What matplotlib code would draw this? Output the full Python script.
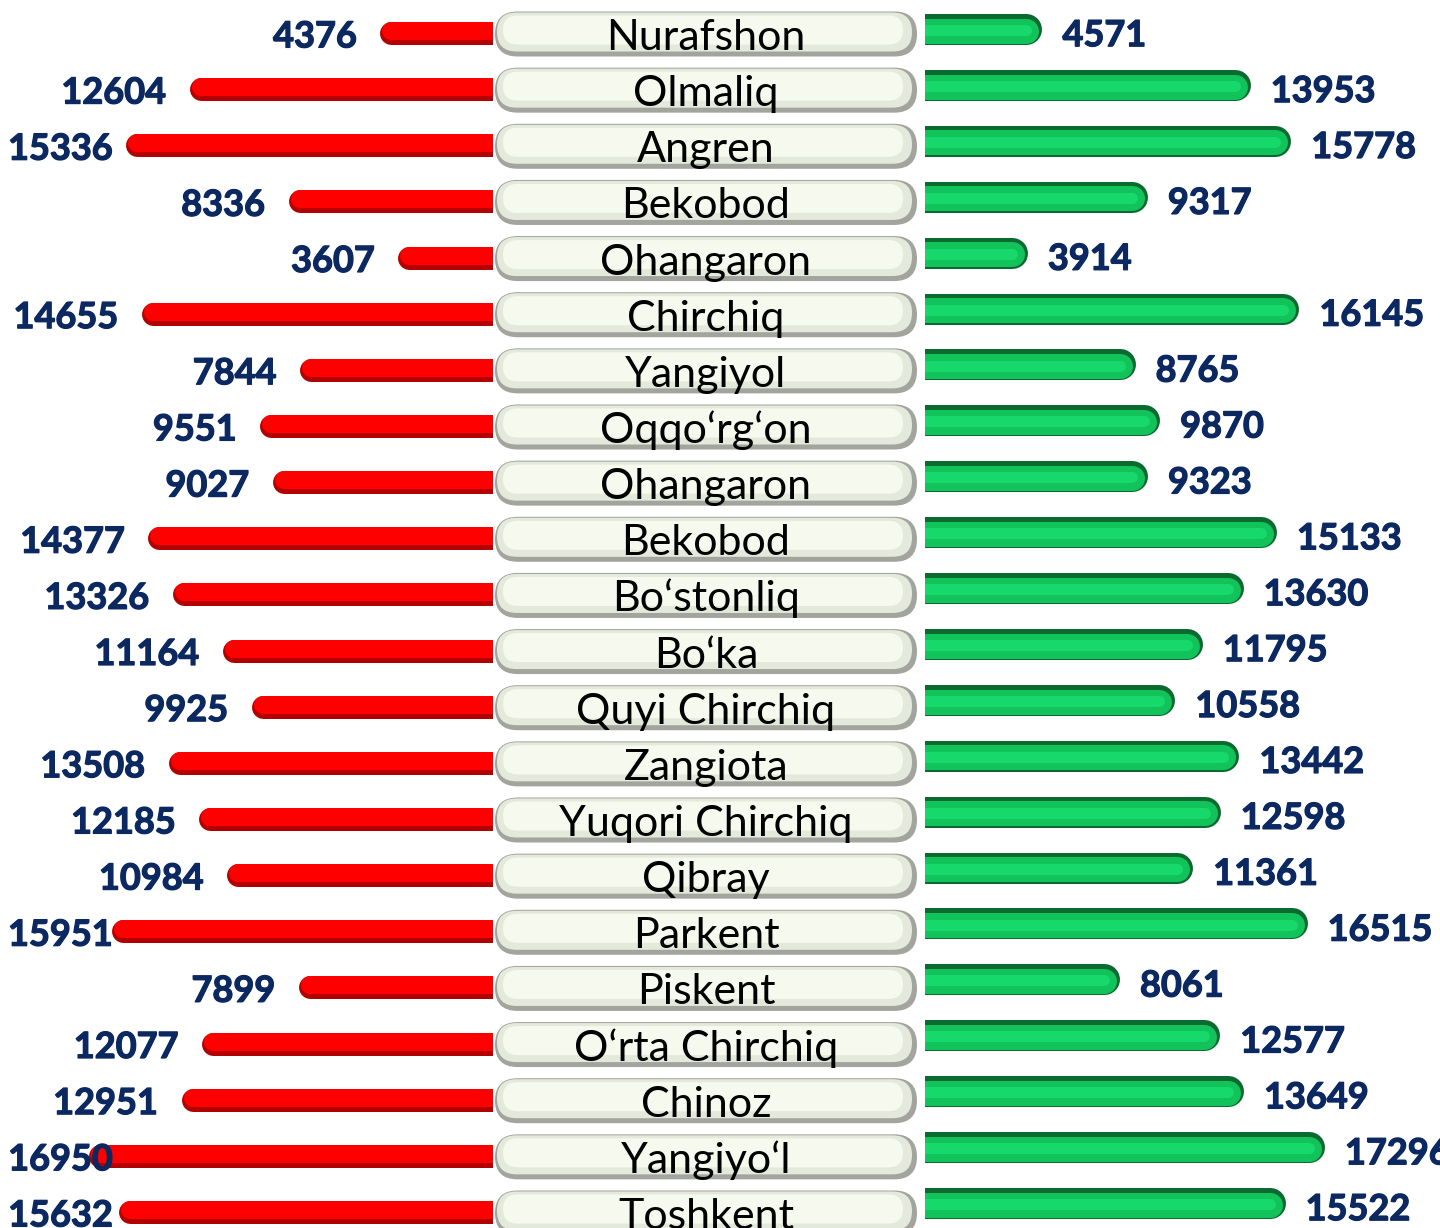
import matplotlib.pyplot as plt
import matplotlib.patheffects as pe
from matplotlib.patches import FancyBboxPatch

regions = ["Nurafshon", "Olmaliq", "Angren", "Bekobod", "Ohangaron", "Chirchiq",
           "Yangiyol", "Oqqo\u2018rg\u2018on", "Ohangaron", "Bekobod", "Bo\u2018stonliq",
           "Bo\u2018ka", "Quyi Chirchiq", "Zangiota", "Yuqori Chirchiq", "Qibray",
           "Parkent", "Piskent", "O\u2018rta Chirchiq", "Chinoz", "Yangiyo\u2018l", "Toshkent"]
left_vals = [4376, 12604, 15336, 8336, 3607, 14655, 7844, 9551, 9027, 14377, 13326,
             11164, 9925, 13508, 12185, 10984, 15951, 7899, 12077, 12951, 16950, 15632]
right_vals = [4571, 13953, 15778, 9317, 3914, 16145, 8765, 9870, 9323, 15133, 13630,
              11795, 10558, 13442, 12598, 11361, 16515, 8061, 12577, 13649, 17296, 15522]

W, H = 1440, 1228
fig = plt.figure(figsize=(W / 100, H / 100), dpi=100)
navy = "#0c2861"
bold_fx = [pe.withStroke(linewidth=0.9, foreground=navy)]
n = len(regions)

# centre pills (pixel coordinates)
axc = fig.add_axes([0, 0, 1, 1])
axc.set_xlim(0, W)
axc.set_ylim(H, 0)
axc.axis("off")
step = (1212 - 33) / (n - 1)
for i, name in enumerate(regions):
    yc = 34 + i * step
    x0, x1, h = 495, 917, 45
    axc.add_patch(FancyBboxPatch((x0, yc - h / 2), x1 - x0, h,
                                 boxstyle="round,pad=0,rounding_size=%g" % (h / 2),
                                 fc="#a3a49d", ec="none"))
    axc.add_patch(FancyBboxPatch((x0 + 2, yc - h / 2 + 1), x1 - x0 - 7, h - 6,
                                 boxstyle="round,pad=0,rounding_size=%g" % ((h - 6) / 2),
                                 fc="#e4eadb", ec="none"))
    axc.add_patch(FancyBboxPatch((x0 + 8, yc - h / 2 + 4), x1 - x0 - 22, h - 16,
                                 boxstyle="round,pad=0,rounding_size=%g" % ((h - 16) / 2),
                                 fc="#f6faee", ec="none"))
    axc.text(706, yc + 16, name, ha="center", va="baseline", fontsize=31,
             family="Lato", color="black")

# left bars
axl = fig.add_axes([0, 0, 493 / W, 1])
axl.patch.set_alpha(0)
sl = 0.0232  # px per unit
axl.set_xlim(493 / sl, 0)
axl.set_ylim((H - 33) / step, -33 / step)
axl.axis("off")
for i, v in enumerate(left_vals):
    axl.plot([0, v], [i, i], color="#b30000", lw=23 * 0.72, solid_capstyle="round")
    axl.plot([0, v], [i - 0.035, i - 0.035], color="#ff0000", lw=18 * 0.72,
             solid_capstyle="round")
    xr = min(v + 34.5 / sl, (493 - 113) / sl)
    axl.text(xr, i + 0.07, str(v), ha="right", va="center", fontsize=26,
             family="Lato", weight="bold", color=navy, path_effects=bold_fx)

# right bars
axr = fig.add_axes([925 / W, 0, 515 / W, 1])
axr.patch.set_alpha(0)
sr = 0.0222
stepr = (1203 - 29) / (n - 1)
axr.set_xlim(0, 515 / sr)
axr.set_ylim((H - 29) / stepr, -29 / stepr)
axr.axis("off")
for i, v in enumerate(right_vals):
    axr.plot([0, v], [i, i], color="#0b6a2f", lw=31 * 0.72, solid_capstyle="round")
    axr.plot([0, v], [i + 0.03, i + 0.03], color="#12c35c", lw=25 * 0.72,
             solid_capstyle="round")
    axr.plot([0, v], [i + 0.02, i + 0.02], color="#16d86b", lw=11 * 0.72,
             solid_capstyle="round")
    axr.text(v + 36 / sr, i + 0.12, str(v), ha="left", va="center", fontsize=26,
             family="Lato", weight="bold", color=navy, path_effects=bold_fx)

fig.savefig("out.png", dpi=100)
